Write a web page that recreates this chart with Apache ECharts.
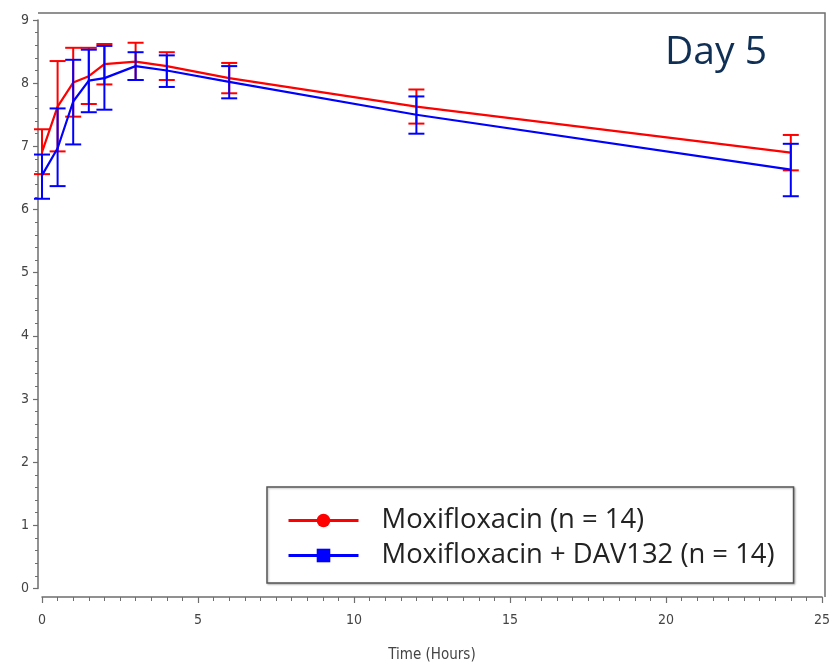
<!DOCTYPE html>
<html>
<head>
<meta charset="utf-8">
<script src="https://cdn.jsdelivr.net/npm/echarts@6/dist/echarts.min.js"></script>
<style>
  html, body { margin: 0; padding: 0; background: #fff; }
  #chart { width: 836px; height: 663px; }
</style>
</head>
<body>
<div id="chart"></div>
<script>
// 时间点（小时）
const times = [0, 0.5, 1, 1.5, 2, 3, 4, 6, 12, 24];

// Moxifloxacin (n = 14)
const moxiMean = [6.91, 7.63, 8.01, 8.11, 8.30, 8.34, 8.27, 8.08, 7.63, 6.90];
const moxiLow  = [6.56, 6.92, 7.47, 7.67, 7.98, 8.05, 8.05, 7.84, 7.36, 6.62];
const moxiHigh = [7.27, 8.35, 8.56, 8.56, 8.62, 8.64, 8.49, 8.32, 7.90, 7.18];

// Moxifloxacin + DAV132 (n = 14)
const davMean = [6.54, 6.97, 7.71, 8.04, 8.08, 8.27, 8.20, 8.02, 7.50, 6.63];
const davLow  = [6.17, 6.37, 7.03, 7.54, 7.58, 8.05, 7.94, 7.76, 7.20, 6.21];
const davHigh = [6.87, 7.60, 8.37, 8.53, 8.59, 8.49, 8.44, 8.27, 7.79, 7.04];

const xTicks = [0, 5, 10, 15, 20, 25];
const yTicks = [0, 1, 2, 3, 4, 5, 6, 7, 8, 9];

const seriesNames = ['Moxifloxacin (n = 14)', 'Moxifloxacin + DAV132 (n = 14)'];

const RED = '#ff0000';
const BLUE = '#0000ff';
const AXIS_GREY = '#6e6e6e';

// 误差线（带帽）
function errorBarItem(color) {
  return function (params, api) {
    const x = api.value(0);
    const lo = api.coord([x, api.value(1)]);
    const hi = api.coord([x, api.value(2)]);
    const half = 8;
    const style = { stroke: color, lineWidth: 2, fill: null };
    return {
      type: 'group',
      children: [
        { type: 'line', shape: { x1: lo[0], y1: lo[1], x2: hi[0], y2: hi[1] }, style: style },
        { type: 'line', shape: { x1: lo[0] - half, y1: lo[1], x2: lo[0] + half, y2: lo[1] }, style: style },
        { type: 'line', shape: { x1: hi[0] - half, y1: hi[1], x2: hi[0] + half, y2: hi[1] }, style: style }
      ]
    };
  };
}

const zip2 = (a, b) => a.map((v, i) => [v, b[i]]);
const zip3 = (a, b, c) => a.map((v, i) => [v, b[i], c[i]]);

const chart = echarts.init(document.getElementById('chart'), null, { renderer: 'canvas' });

const axisLabelFont = {
  color: '#444',
  fontSize: 14,
  fontFamily: '"DejaVu Sans Condensed", "Liberation Sans", Arial, sans-serif'
};

chart.setOption({
  animation: false,
  backgroundColor: '#fff',
  grid: { left: 42, right: 14, top: 20, bottom: 74.5, containLabel: false, outerBoundsMode: 'none' },
  xAxis: {
    type: 'value',
    min: xTicks[0],
    max: xTicks[xTicks.length - 1],
    interval: 5,
    offset: 8.5,
    name: 'Time (Hours)',
    nameLocation: 'middle',
    nameGap: 51,
    nameTextStyle: Object.assign({}, axisLabelFont, { fontSize: 15 }),
    axisLine: { show: true, onZero: false, lineStyle: { color: AXIS_GREY, width: 1.5 } },
    axisTick: { show: true, length: 6, lineStyle: { color: AXIS_GREY, width: 1.2 } },
    minorTick: { show: true, splitNumber: 10, length: 4, lineStyle: { color: AXIS_GREY, width: 1 } },
    axisLabel: Object.assign({ margin: 16 }, axisLabelFont),
    splitLine: { show: false }
  },
  yAxis: {
    type: 'value',
    min: yTicks[0],
    max: yTicks[yTicks.length - 1],
    interval: 1,
    offset: 4,
    axisLine: { show: true, onZero: false, lineStyle: { color: AXIS_GREY, width: 1.5 } },
    axisTick: { show: true, length: 5, lineStyle: { color: AXIS_GREY, width: 1.2 } },
    minorTick: { show: true, splitNumber: 5, length: 3, lineStyle: { color: AXIS_GREY, width: 1 } },
    axisLabel: Object.assign({ margin: 9 }, axisLabelFont),
    splitLine: { show: false }
  },
  legend: {
    orient: 'vertical',
    left: 267,
    top: 487,
    padding: [20, 19, 14, 20],
    itemGap: 8,
    itemWidth: 70,
    itemHeight: 17,
    borderColor: '#555',
    borderWidth: 1.5,
    backgroundColor: '#fff',
    shadowColor: 'rgba(0,0,0,0.25)',
    shadowBlur: 2,
    shadowOffsetX: 1,
    shadowOffsetY: 1,
    selectedMode: false,
    lineStyle: { width: 3 },
    textStyle: {
      color: '#222',
      fontSize: 27.4,
      fontFamily: '"Open Sans", "Noto Sans", sans-serif',
      padding: [0, 0, 0, 18]
    },
    data: seriesNames
  },
  graphic: [
    // 绘图区上、右边框
    { type: 'polyline', silent: true, z: 1,
      shape: { points: [[38, 13], [825, 13], [825, 597]] },
      style: { stroke: AXIS_GREY, lineWidth: 1.5, fill: null } },
    { type: 'text', left: 665, top: 33, silent: true,
      style: { text: 'Day 5', fill: '#0f2f55', fontSize: 39,
        fontFamily: '"Open Sans", "Noto Sans", sans-serif' } }
  ],
  series: [
    {
      name: 'moxiErr',
      type: 'custom',
      renderItem: errorBarItem(RED),
      data: zip3(times, moxiLow, moxiHigh),
      z: 2,
      silent: true
    },
    {
      name: seriesNames[0],
      type: 'line',
      data: zip2(times, moxiMean),
      symbol: 'circle',
      symbolSize: 16,
      showSymbol: false,
      itemStyle: { color: RED },
      lineStyle: { color: RED, width: 2.2 },
      z: 3
    },
    {
      name: 'davErr',
      type: 'custom',
      renderItem: errorBarItem(BLUE),
      data: zip3(times, davLow, davHigh),
      z: 4,
      silent: true
    },
    {
      name: seriesNames[1],
      type: 'line',
      data: zip2(times, davMean),
      symbol: 'rect',
      symbolSize: 16,
      showSymbol: false,
      itemStyle: { color: BLUE },
      lineStyle: { color: BLUE, width: 2.2 },
      z: 5
    }
  ]
});
</script>
</body>
</html>
